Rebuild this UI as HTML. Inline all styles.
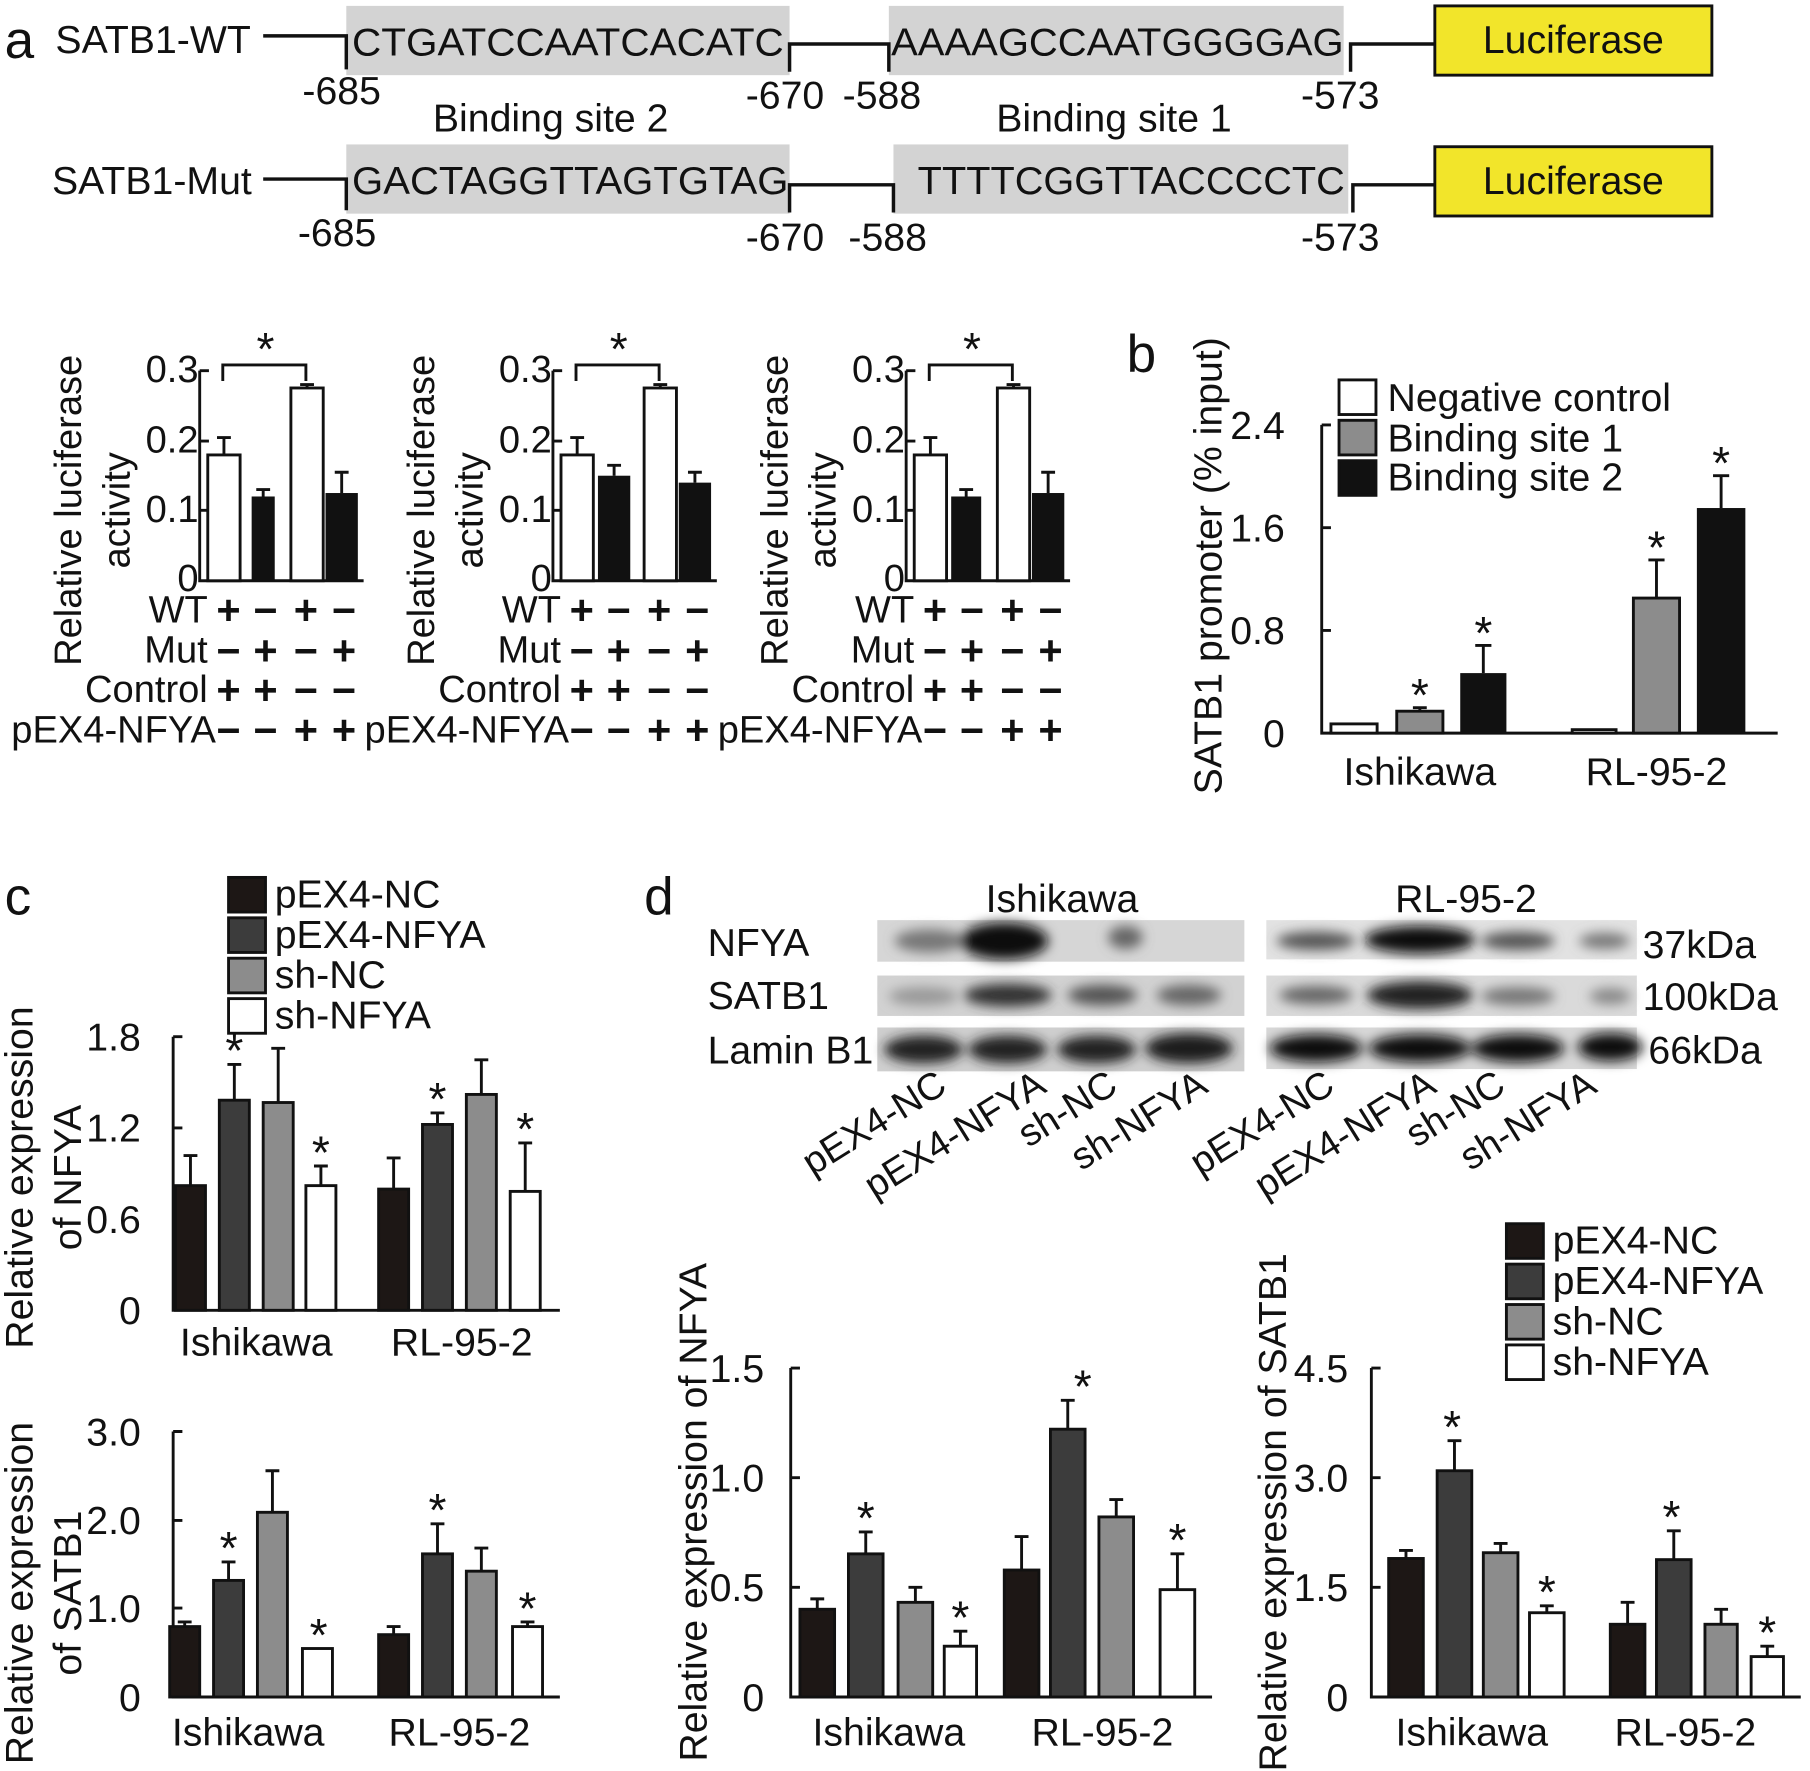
<!DOCTYPE html>
<html><head><meta charset="utf-8"><style>
html,body{margin:0;padding:0;background:#fff}
svg{display:block}
text{font-family:"Liberation Sans",Arial,sans-serif;fill:#111}
</style></head><body>
<svg width="1810" height="1771" viewBox="0 0 1568 1534" xmlns="http://www.w3.org/2000/svg">
<defs><filter id="bl" x="-30%" y="-60%" width="160%" height="220%"><feGaussianBlur stdDeviation="5"/></filter></defs>
<!-- Panel a top -->
<g font-size="34">
<text x="4" y="50" font-size="46">a</text>
<text x="48" y="46">SATB1-WT</text>
<rect x="300" y="5" width="384" height="60" fill="#d3d3d3"/>
<rect x="770" y="5" width="394" height="60" fill="#d3d3d3"/>
<path d="M228 31H300V60 M684 62V38H770V62 M1170 62V38H1243" stroke="#111" stroke-width="3" fill="none"/>
<text x="305" y="48" textLength="374" lengthAdjust="spacingAndGlyphs">CTGATCCAATCACATC</text>
<text x="772" y="48" textLength="392" lengthAdjust="spacingAndGlyphs">AAAAGCCAATGGGGAG</text>
<rect x="1243" y="5" width="240" height="60" fill="#f2e52a" stroke="#111" stroke-width="2.5"/>
<text x="1363" y="46" text-anchor="middle">Luciferase</text>
<text x="262" y="90">-685</text><text x="646" y="94">-670</text><text x="730" y="94">-588</text><text x="1127" y="94">-573</text>
<text x="375" y="114">Binding site 2</text><text x="863" y="114">Binding site 1</text>
<text x="45" y="168">SATB1-Mut</text>
<rect x="300" y="125" width="384" height="60" fill="#d3d3d3"/>
<rect x="774" y="125" width="394" height="60" fill="#d3d3d3"/>
<path d="M228 155H300V182 M684 184V160H774V184 M1172 184V160H1243" stroke="#111" stroke-width="3" fill="none"/>
<text x="305" y="168" textLength="378" lengthAdjust="spacingAndGlyphs">GACTAGGTTAGTGTAG</text>
<text x="795" y="168" textLength="370" lengthAdjust="spacingAndGlyphs">TTTTCGGTTACCCCTC</text>
<rect x="1243" y="127" width="240" height="60" fill="#f2e52a" stroke="#111" stroke-width="2.5"/>
<text x="1363" y="168" text-anchor="middle">Luciferase</text>
<text x="258" y="213">-685</text><text x="646" y="217">-670</text><text x="735" y="217">-588</text><text x="1127" y="217">-573</text>
</g>
<!-- Panel a charts -->
<g font-size="33" stroke-width="2.5">
<text x="172" y="331" text-anchor="end">0.3</text><text x="172" y="392" text-anchor="end">0.2</text><text x="172" y="452" text-anchor="end">0.1</text><text x="172" y="512" text-anchor="end">0</text>
<path d="M173 321V503H315 M173 321h8M173 382h8M173 442h8" stroke="#111" fill="none"/>
<rect x="180" y="394" width="28" height="109" fill="#fff" stroke="#111"/>
<rect x="218" y="430" width="20" height="73" fill="#111"/>
<rect x="252" y="336" width="28" height="167" fill="#fff" stroke="#111"/>
<rect x="282" y="427" width="28" height="76" fill="#111"/>
<path d="M194 394V379M188 379h12M228 430V424M222 424h12M266 336V333M260 333h12M296 427V409M290 409h12M193 330V316H265V330" stroke="#111" fill="none"/>
<text x="230" y="316" font-size="40" text-anchor="middle">*</text>
<text transform="translate(70,442) rotate(-90)" text-anchor="middle">Relative luciferase</text>
<text transform="translate(112,442) rotate(-90)" text-anchor="middle">activity</text>
<text x="180" y="539" text-anchor="end">WT</text><text x="180" y="574" text-anchor="end">Mut</text><text x="180" y="608" text-anchor="end">Control</text><text x="187" y="643" text-anchor="end">pEX4-NFYA</text>
<g text-anchor="middle" font-size="36" font-weight="bold"><text x="198" y="541">+</text><text x="230" y="541">−</text><text x="265" y="541">+</text><text x="298" y="541">−</text>
<text x="198" y="576">−</text><text x="230" y="576">+</text><text x="265" y="576">−</text><text x="298" y="576">+</text>
<text x="198" y="610">+</text><text x="230" y="610">+</text><text x="265" y="610">−</text><text x="298" y="610">−</text>
<text x="198" y="645">−</text><text x="230" y="645">−</text><text x="265" y="645">+</text><text x="298" y="645">+</text></g>
</g>
<g transform="translate(306,0)" font-size="33" stroke-width="2.5">
<text x="172" y="331" text-anchor="end">0.3</text><text x="172" y="392" text-anchor="end">0.2</text><text x="172" y="452" text-anchor="end">0.1</text><text x="172" y="512" text-anchor="end">0</text>
<path d="M173 321V503H315 M173 321h8M173 382h8M173 442h8" stroke="#111" fill="none"/>
<rect x="180" y="394" width="28" height="109" fill="#fff" stroke="#111"/>
<rect x="212" y="412" width="28" height="91" fill="#111"/>
<rect x="252" y="336" width="28" height="167" fill="#fff" stroke="#111"/>
<rect x="282" y="418" width="28" height="85" fill="#111"/>
<path d="M194 394V379M188 379h12M226 412V403M220 403h12M266 336V333M260 333h12M296 418V409M290 409h12M193 330V316H265V330" stroke="#111" fill="none"/>
<text x="230" y="316" font-size="40" text-anchor="middle">*</text>
<text transform="translate(70,442) rotate(-90)" text-anchor="middle">Relative luciferase</text>
<text transform="translate(112,442) rotate(-90)" text-anchor="middle">activity</text>
<text x="180" y="539" text-anchor="end">WT</text><text x="180" y="574" text-anchor="end">Mut</text><text x="180" y="608" text-anchor="end">Control</text><text x="187" y="643" text-anchor="end">pEX4-NFYA</text>
<g text-anchor="middle" font-size="36" font-weight="bold"><text x="198" y="541">+</text><text x="230" y="541">−</text><text x="265" y="541">+</text><text x="298" y="541">−</text>
<text x="198" y="576">−</text><text x="230" y="576">+</text><text x="265" y="576">−</text><text x="298" y="576">+</text>
<text x="198" y="610">+</text><text x="230" y="610">+</text><text x="265" y="610">−</text><text x="298" y="610">−</text>
<text x="198" y="645">−</text><text x="230" y="645">−</text><text x="265" y="645">+</text><text x="298" y="645">+</text></g>
</g>
<g transform="translate(612,0)" font-size="33" stroke-width="2.5">
<text x="172" y="331" text-anchor="end">0.3</text><text x="172" y="392" text-anchor="end">0.2</text><text x="172" y="452" text-anchor="end">0.1</text><text x="172" y="512" text-anchor="end">0</text>
<path d="M173 321V503H315 M173 321h8M173 382h8M173 442h8" stroke="#111" fill="none"/>
<rect x="180" y="394" width="28" height="109" fill="#fff" stroke="#111"/>
<rect x="212" y="430" width="26" height="73" fill="#111"/>
<rect x="252" y="336" width="28" height="167" fill="#fff" stroke="#111"/>
<rect x="282" y="427" width="28" height="76" fill="#111"/>
<path d="M194 394V379M188 379h12M225 430V424M219 424h12M266 336V333M260 333h12M296 427V409M290 409h12M193 330V316H265V330" stroke="#111" fill="none"/>
<text x="230" y="316" font-size="40" text-anchor="middle">*</text>
<text transform="translate(70,442) rotate(-90)" text-anchor="middle">Relative luciferase</text>
<text transform="translate(112,442) rotate(-90)" text-anchor="middle">activity</text>
<text x="180" y="539" text-anchor="end">WT</text><text x="180" y="574" text-anchor="end">Mut</text><text x="180" y="608" text-anchor="end">Control</text><text x="187" y="643" text-anchor="end">pEX4-NFYA</text>
<g text-anchor="middle" font-size="36" font-weight="bold"><text x="198" y="541">+</text><text x="230" y="541">−</text><text x="265" y="541">+</text><text x="298" y="541">−</text>
<text x="198" y="576">−</text><text x="230" y="576">+</text><text x="265" y="576">−</text><text x="298" y="576">+</text>
<text x="198" y="610">+</text><text x="230" y="610">+</text><text x="265" y="610">−</text><text x="298" y="610">−</text>
<text x="198" y="645">−</text><text x="230" y="645">−</text><text x="265" y="645">+</text><text x="298" y="645">+</text></g>
</g>
<!-- Panel b -->
<g font-size="34" stroke-width="2.5">
<text x="976" y="322" font-size="46">b</text>
<rect x="1160" y="329" width="32" height="30" fill="#fff" stroke="#111"/><text x="1202" y="356">Negative control</text>
<rect x="1160" y="364" width="32" height="30" fill="#8c8c8c" stroke="#111"/><text x="1202" y="391">Binding site 1</text>
<rect x="1160" y="399" width="32" height="30" fill="#111" stroke="#111"/><text x="1202" y="425">Binding site 2</text>
<text x="1113" y="380" text-anchor="end">2.4</text><text x="1113" y="469" text-anchor="end">1.6</text><text x="1113" y="558" text-anchor="end">0.8</text><text x="1113" y="647" text-anchor="end">0</text>
<path d="M1145 368V635H1540M1145 368h8M1145 457h8M1145 546h8" stroke="#111" fill="none"/>
<rect x="1153" y="627" width="40" height="8" fill="#fff" stroke="#111"/>
<rect x="1210" y="616" width="40" height="19" fill="#8c8c8c" stroke="#111"/>
<rect x="1265" y="583" width="40" height="52" fill="#111"/>
<rect x="1362" y="632" width="38" height="3" fill="#fff" stroke="#111"/>
<rect x="1415" y="518" width="40" height="117" fill="#8c8c8c" stroke="#111"/>
<rect x="1470" y="440" width="42" height="195" fill="#111"/>
<path d="M1230 616V613M1224 613h12M1285 583V559M1278 559h14M1435 518V485M1428 485h14M1491 440V412M1484 412h14" stroke="#111" fill="none"/>
<g font-size="40" text-anchor="middle"><text x="1230" y="616">*</text><text x="1285" y="562">*</text><text x="1435" y="488">*</text><text x="1491" y="415">*</text></g>
<text x="1230" y="680" text-anchor="middle">Ishikawa</text><text x="1435" y="680" text-anchor="middle">RL-95-2</text>
<text transform="translate(1058,490) rotate(-90)" text-anchor="middle">SATB1 promoter (% input)</text>
</g>
<!-- Panel c -->
<g font-size="34" stroke-width="2.5">
<text x="4" y="792" font-size="46">c</text>
<rect x="198" y="760" width="32" height="30" fill="#1d1715" stroke="#111"/><text x="238" y="786">pEX4-NC</text>
<rect x="198" y="795" width="32" height="30" fill="#3c3c3c" stroke="#111"/><text x="238" y="821">pEX4-NFYA</text>
<rect x="198" y="830" width="32" height="30" fill="#8c8c8c" stroke="#111"/><text x="238" y="856">sh-NC</text>
<rect x="198" y="865" width="32" height="30" fill="#fff" stroke="#111"/><text x="238" y="891">sh-NFYA</text>
<text x="122" y="910" text-anchor="end">1.8</text><text x="122" y="989" text-anchor="end">1.2</text><text x="122" y="1068" text-anchor="end">0.6</text><text x="122" y="1147" text-anchor="end">0</text>
<path d="M150 898V1135H485M150 898h8M150 977h8M150 1056h8" stroke="#111" fill="none"/>
<rect x="152" y="1027" width="26" height="108" fill="#1d1715" stroke="#111"/>
<rect x="190" y="953" width="26" height="182" fill="#3c3c3c" stroke="#111"/>
<rect x="228" y="955" width="26" height="180" fill="#8c8c8c" stroke="#111"/>
<rect x="265" y="1027" width="26" height="108" fill="#fff" stroke="#111"/>
<rect x="328" y="1030" width="26" height="105" fill="#1d1715" stroke="#111"/>
<rect x="366" y="974" width="26" height="161" fill="#3c3c3c" stroke="#111"/>
<rect x="404" y="948" width="26" height="187" fill="#8c8c8c" stroke="#111"/>
<rect x="442" y="1032" width="26" height="103" fill="#fff" stroke="#111"/>
<path d="M165 1027V1001M159 1001h12M203 953V922M197 922h12M241 955V908M235 908h12M278 1027V1010M272 1010h12M341 1030V1003M335 1003h12M379 974V964M373 964h12M417 948V918M411 918h12M455 1032V990M449 990h12" stroke="#111" fill="none"/>
<g font-size="40" text-anchor="middle"><text x="203" y="924">*</text><text x="278" y="1012">*</text><text x="379" y="966">*</text><text x="455" y="992">*</text></g>
<text x="222" y="1174" text-anchor="middle">Ishikawa</text><text x="400" y="1174" text-anchor="middle">RL-95-2</text>
<text transform="translate(28,1020) rotate(-90)" text-anchor="middle">Relative expression</text>
<text transform="translate(70,1020) rotate(-90)" text-anchor="middle">of NFYA</text>
<text x="122" y="1252" text-anchor="end">3.0</text><text x="122" y="1329" text-anchor="end">2.0</text><text x="122" y="1405" text-anchor="end">1.0</text><text x="122" y="1482" text-anchor="end">0</text>
<path d="M150 1240V1470H485M150 1240h8M150 1317h8M150 1393h8" stroke="#111" fill="none"/>
<rect x="147" y="1409" width="26" height="61" fill="#1d1715" stroke="#111"/>
<rect x="185" y="1369" width="26" height="101" fill="#3c3c3c" stroke="#111"/>
<rect x="223" y="1310" width="26" height="160" fill="#8c8c8c" stroke="#111"/>
<rect x="262" y="1428" width="26" height="42" fill="#fff" stroke="#111"/>
<rect x="328" y="1416" width="26" height="54" fill="#1d1715" stroke="#111"/>
<rect x="366" y="1346" width="26" height="124" fill="#3c3c3c" stroke="#111"/>
<rect x="404" y="1361" width="26" height="109" fill="#8c8c8c" stroke="#111"/>
<rect x="444" y="1409" width="26" height="61" fill="#fff" stroke="#111"/>
<path d="M160 1409V1405M154 1405h12M198 1369V1353M192 1353h12M236 1310V1274M230 1274h12M341 1416V1409M335 1409h12M379 1346V1320M373 1320h12M417 1361V1341M411 1341h12M457 1409V1405M451 1405h12" stroke="#111" fill="none"/>
<g font-size="40" text-anchor="middle"><text x="198" y="1355">*</text><text x="276" y="1430">*</text><text x="379" y="1322">*</text><text x="457" y="1407">*</text></g>
<text x="215" y="1512" text-anchor="middle">Ishikawa</text><text x="398" y="1512" text-anchor="middle">RL-95-2</text>
<text transform="translate(28,1380) rotate(-90)" text-anchor="middle">Relative expression</text>
<text transform="translate(70,1380) rotate(-90)" text-anchor="middle">of SATB1</text>
</g>
<!-- Panel d blots -->
<g font-size="34">
<text x="558" y="792" font-size="46">d</text>
<text x="920" y="790" text-anchor="middle">Ishikawa</text><text x="1270" y="790" text-anchor="middle">RL-95-2</text>
<text x="613" y="828">NFYA</text><text x="613" y="874">SATB1</text><text x="613" y="921">Lamin B1</text>
<text x="1423" y="830">37kDa</text><text x="1423" y="875">100kDa</text><text x="1428" y="921">66kDa</text>
<rect x="760" y="797" width="318" height="36" fill="#d6d6d6"/>
<rect x="760" y="845" width="318" height="35" fill="#d2d2d2"/>
<rect x="760" y="890" width="318" height="38" fill="#cfcfcf"/>
<rect x="1097" y="797" width="321" height="34" fill="#e2e2e2"/>
<rect x="1097" y="845" width="321" height="35" fill="#dadada"/>
<rect x="1097" y="890" width="321" height="36" fill="#d8d8d8"/>
<g filter="url(#bl)">
<ellipse cx="805" cy="815" rx="30" ry="10" fill="#777"/><ellipse cx="870" cy="815" rx="38" ry="16" fill="#111"/><ellipse cx="975" cy="812" rx="15" ry="10" fill="#666"/>
<ellipse cx="800" cy="863" rx="30" ry="8" fill="#999"/><ellipse cx="873" cy="862" rx="38" ry="10" fill="#333"/><ellipse cx="955" cy="862" rx="30" ry="9" fill="#555"/><ellipse cx="1030" cy="862" rx="28" ry="9" fill="#666"/>
<ellipse cx="800" cy="909" rx="34" ry="12" fill="#222"/><ellipse cx="873" cy="909" rx="34" ry="12" fill="#222"/><ellipse cx="950" cy="909" rx="34" ry="12" fill="#222"/><ellipse cx="1030" cy="908" rx="38" ry="13" fill="#1a1a1a"/>
<ellipse cx="1140" cy="815" rx="34" ry="8" fill="#555"/><ellipse cx="1230" cy="814" rx="48" ry="12" fill="#111"/><ellipse cx="1315" cy="815" rx="32" ry="8" fill="#555"/><ellipse cx="1390" cy="815" rx="22" ry="7" fill="#777"/>
<ellipse cx="1140" cy="862" rx="32" ry="8" fill="#666"/><ellipse cx="1230" cy="862" rx="46" ry="12" fill="#222"/><ellipse cx="1315" cy="863" rx="32" ry="8" fill="#777"/><ellipse cx="1395" cy="863" rx="18" ry="7" fill="#888"/>
<ellipse cx="1140" cy="908" rx="40" ry="12" fill="#111"/><ellipse cx="1230" cy="908" rx="44" ry="12" fill="#111"/><ellipse cx="1315" cy="908" rx="40" ry="12" fill="#111"/><ellipse cx="1395" cy="907" rx="28" ry="12" fill="#111"/>
</g>
<g font-size="33" text-anchor="end">
<text transform="translate(822,945) rotate(-32)">pEX4-NC</text>
<text transform="translate(908,945) rotate(-32)">pEX4-NFYA</text>
<text transform="translate(970,945) rotate(-32)">sh-NC</text>
<text transform="translate(1048,945) rotate(-32)">sh-NFYA</text>
<text transform="translate(1158,945) rotate(-32)">pEX4-NC</text>
<text transform="translate(1246,945) rotate(-32)">pEX4-NFYA</text>
<text transform="translate(1306,945) rotate(-32)">sh-NC</text>
<text transform="translate(1385,945) rotate(-32)">sh-NFYA</text>
</g>
</g>
<!-- Panel d charts -->
<g font-size="34" stroke-width="2.5">
<text x="662" y="1197" text-anchor="end">1.5</text><text x="662" y="1292" text-anchor="end">1.0</text><text x="662" y="1387" text-anchor="end">0.5</text><text x="662" y="1482" text-anchor="end">0</text>
<path d="M685 1185V1470H1050M685 1185h8M685 1280h8M685 1375h8" stroke="#111" fill="none"/>
<rect x="693" y="1394" width="30" height="76" fill="#1d1715" stroke="#111"/>
<rect x="735" y="1346" width="30" height="124" fill="#3c3c3c" stroke="#111"/>
<rect x="778" y="1388" width="30" height="82" fill="#8c8c8c" stroke="#111"/>
<rect x="818" y="1426" width="28" height="44" fill="#fff" stroke="#111"/>
<rect x="870" y="1360" width="30" height="110" fill="#1d1715" stroke="#111"/>
<rect x="910" y="1238" width="30" height="232" fill="#3c3c3c" stroke="#111"/>
<rect x="952" y="1314" width="30" height="156" fill="#8c8c8c" stroke="#111"/>
<rect x="1005" y="1377" width="30" height="93" fill="#fff" stroke="#111"/>
<path d="M708 1394V1385M702 1385h12M750 1346V1327M744 1327h12M793 1388V1375M787 1375h12M832 1426V1413M826 1413h12M885 1360V1331M879 1331h12M925 1238V1213M919 1213h12M967 1314V1299M961 1299h12M1020 1377V1346M1014 1346h12" stroke="#111" fill="none"/>
<g font-size="40" text-anchor="middle"><text x="750" y="1329">*</text><text x="832" y="1415">*</text><text x="938" y="1215">*</text><text x="1020" y="1348">*</text></g>
<text x="770" y="1512" text-anchor="middle">Ishikawa</text><text x="955" y="1512" text-anchor="middle">RL-95-2</text>
<text transform="translate(612,1310) rotate(-90)" text-anchor="middle">Relative expression of NFYA</text>

<rect x="1305" y="1060" width="32" height="30" fill="#1d1715" stroke="#111"/><text x="1345" y="1086">pEX4-NC</text>
<rect x="1305" y="1095" width="32" height="30" fill="#3c3c3c" stroke="#111"/><text x="1345" y="1121">pEX4-NFYA</text>
<rect x="1305" y="1130" width="32" height="30" fill="#8c8c8c" stroke="#111"/><text x="1345" y="1156">sh-NC</text>
<rect x="1305" y="1165" width="32" height="30" fill="#fff" stroke="#111"/><text x="1345" y="1191">sh-NFYA</text>
<text x="1168" y="1197" text-anchor="end">4.5</text><text x="1168" y="1292" text-anchor="end">3.0</text><text x="1168" y="1387" text-anchor="end">1.5</text><text x="1168" y="1482" text-anchor="end">0</text>
<path d="M1188 1185V1470H1560M1188 1185h8M1188 1280h8M1188 1375h8" stroke="#111" fill="none"/>
<rect x="1203" y="1350" width="30" height="120" fill="#1d1715" stroke="#111"/>
<rect x="1245" y="1274" width="30" height="196" fill="#3c3c3c" stroke="#111"/>
<rect x="1285" y="1345" width="30" height="125" fill="#8c8c8c" stroke="#111"/>
<rect x="1325" y="1397" width="30" height="73" fill="#fff" stroke="#111"/>
<rect x="1395" y="1407" width="30" height="63" fill="#1d1715" stroke="#111"/>
<rect x="1435" y="1351" width="30" height="119" fill="#3c3c3c" stroke="#111"/>
<rect x="1477" y="1407" width="28" height="63" fill="#8c8c8c" stroke="#111"/>
<rect x="1517" y="1435" width="28" height="35" fill="#fff" stroke="#111"/>
<path d="M1218 1350V1343M1212 1343h12M1260 1274V1248M1254 1248h12M1300 1345V1337M1294 1337h12M1340 1397V1391M1334 1391h12M1410 1407V1388M1404 1388h12M1450 1351V1326M1444 1326h12M1491 1407V1394M1485 1394h12M1531 1435V1426M1525 1426h12" stroke="#111" fill="none"/>
<g font-size="40" text-anchor="middle"><text x="1258" y="1250">*</text><text x="1340" y="1393">*</text><text x="1448" y="1328">*</text><text x="1531" y="1428">*</text></g>
<text x="1275" y="1512" text-anchor="middle">Ishikawa</text><text x="1460" y="1512" text-anchor="middle">RL-95-2</text>
<text transform="translate(1114,1310) rotate(-90)" text-anchor="middle">Relative expression of SATB1</text>
</g>
</svg>
</body></html>
